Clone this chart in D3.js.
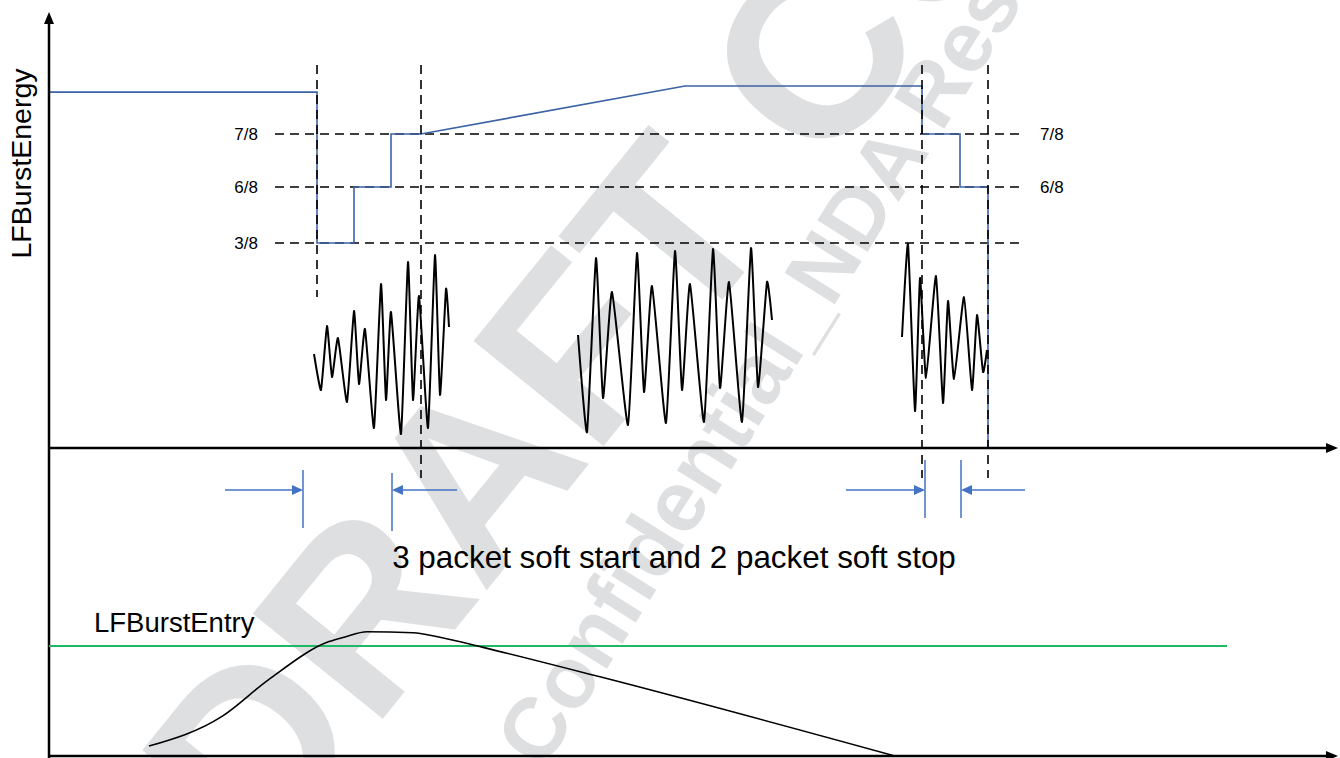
<!DOCTYPE html>
<html>
<head>
<meta charset="utf-8">
<script src="https://cdn.jsdelivr.net/npm/d3@7/dist/d3.min.js"></script>
<style>
  html, body { margin: 0; padding: 0; background: #ffffff; }
  svg { display: block; font-family: "Liberation Sans", Arial, sans-serif; }
</style>
</head>
<body>
<svg id="chart" width="1340" height="758"></svg>
<script>
// ---------------- DATA ----------------
// threshold levels on the LFBurstEnergy axis
const levelLabels = ["3/8", "6/8", "7/8"];
const levelValues = [3 / 8, 6 / 8, 7 / 8];

// LFBurstEnergy step trace (time units, energy fraction)
const energyTime  = [0, 268, 268, 305, 305, 342, 342, 372, 636, 873, 873, 911, 911, 939, 939];
const energyValue = [0.984, 0.984, 3/8, 3/8, 6/8, 6/8, 7/8, 7/8, 1, 1, 7/8, 7/8, 6/8, 6/8, 0];

// packet boundaries (vertical dashed markers) and their vertical extent (energy units)
const markerTime   = [268, 372, 873, 939];
const markerTop    = [1.055, 1.055, 1.055, 1.055];
const markerBottom = [0.276, -0.055, -0.055, -0.055];

// burst waveforms (time, normalised amplitude)
const burst1Time = [265, 272, 278, 283, 289, 298, 305, 310, 316, 325, 332, 337, 342, 352, 359, 364, 370, 379, 386, 391, 397, 400];
const burst1Amp  = [-0.09, -0.45, 0.19, -0.32, 0.07, -0.57, 0.34, -0.39, 0.16, -0.83, 0.61, -0.55, 0.33, -0.89, 0.83, -0.55, 0.49, -0.83, 0.90, -0.50, 0.56, 0.18];
const burst2Time = [529, 538, 547, 554, 563, 579, 588, 595, 603, 617, 626, 633, 641, 655, 664, 671, 680, 693, 702, 709, 718, 723];
const burst2Amp  = [0.10, -0.87, 0.87, -0.53, 0.53, -0.80, 0.92, -0.47, 0.59, -0.78, 0.94, -0.45, 0.61, -0.77, 0.96, -0.43, 0.63, -0.77, 0.97, -0.42, 0.63, 0.25];
const burst3Time = [853, 859, 866, 871, 877, 887, 894, 899, 905, 915, 923, 928, 934, 938];
const burst3Amp  = [0.08, 1.01, -0.66, 0.67, -0.33, 0.69, -0.58, 0.44, -0.34, 0.48, -0.45, 0.30, -0.27, -0.05];

// soft start / soft stop dimension markers: [from, to] in time units
const dimFrom = [176, 408, 797, 976];
const dimTo   = [254, 343, 876, 912];

// LFBurstEntry panel
const entryTime  = [100, 173, 219, 280, 295, 318, 364, 391, 433, 551, 846];
const entryValue = [0.09, 0.36, 0.69, 1.04, 1.08, 1.13, 1.12, 1.08, 0.99, 0.72, 0.0];
const entryThreshold = 1;
const entryThresholdEnd = 1178;

// texts
const yAxisTitle = "LFBurstEnergy";
const entryTitle = "LFBurstEntry";
const caption = "3 packet soft start and 2 packet soft stop";
const watermarkBig = "DRAFT COPY";
const watermarkSmall = "Confidential_NDA Restricted";

// ---------------- LAYOUT ----------------
const W = 1340, H = 758;
const axisX = 49;
const svg = d3.select("#chart");
svg.append("rect").attr("width", W).attr("height", H).attr("fill", "#ffffff");

// watermark (background)
const WM = "#dedfe1";
svg.append("text")
  .attr("transform", "translate(262,868) rotate(-51)")
  .attr("font-size", 243).attr("font-weight", "bold").attr("fill", WM)
  .text(watermarkBig);
svg.append("text")
  .attr("transform", "translate(543,771) rotate(-58)")
  .attr("font-size", 86).attr("font-weight", "bold").attr("fill", WM)
  .text(watermarkSmall);

const x = d3.scaleLinear().domain([0, 1290]).range([axisX, axisX + 1290]);
// piecewise (schematic) energy scale
const yE = d3.scaleLinear().domain([0, 3/8, 6/8, 7/8, 1]).range([448, 243, 187, 134, 86]);
const yW = d3.scaleLinear().domain([-1, 1]).range([445, 245]);
const yB = d3.scaleLinear().domain([0, 1]).range([756, 646]);

const BLUE = "#3c63a6";
const BLUE2 = "#4472c4";
const GREEN = "#20b864";
const dash = "9,6";

// ---------------- DASHED LEVEL LINES ----------------
const gLevels = svg.append("g");
gLevels.selectAll("line").data(levelValues).join("line")
  .attr("x1", x(226)).attr("x2", x(975))
  .attr("y1", d => yE(d)).attr("y2", d => yE(d))
  .attr("stroke", "#000").attr("stroke-width", 1.5).attr("stroke-dasharray", dash);

gLevels.selectAll("text.left").data(levelValues).join("text").attr("class", "left")
  .attr("x", x(209)).attr("y", d => yE(d)).attr("dy", "0.35em")
  .attr("text-anchor", "end").attr("font-size", 17).attr("fill", "#000")
  .text((d, i) => levelLabels[i]);
gLevels.selectAll("text.right").data(levelValues.filter(v => v > 0.5)).join("text").attr("class", "right")
  .attr("x", x(991)).attr("y", d => yE(d)).attr("dy", "0.35em")
  .attr("text-anchor", "start").attr("font-size", 17).attr("fill", "#000")
  .text(d => levelLabels[levelValues.indexOf(d)]);

// ---------------- ENERGY STEP TRACE ----------------
const energyData = energyTime.map((t, i) => [t, energyValue[i]]);
svg.append("path").datum(energyData)
  .attr("d", d3.line().x(d => x(d[0])).y(d => yE(d[1])))
  .attr("fill", "none").attr("stroke", BLUE).attr("stroke-width", 1.6);

// ---------------- BURSTS ----------------
const waveLine = d3.line().x(d => x(d[0])).y(d => yW(d[1])).curve(d3.curveCardinal.tension(0.55));
[[burst1Time, burst1Amp], [burst2Time, burst2Amp], [burst3Time, burst3Amp]].forEach(([ts, as]) => {
  svg.append("path").datum(ts.map((t, i) => [t, as[i]]))
    .attr("d", waveLine)
    .attr("fill", "none").attr("stroke", "#000").attr("stroke-width", 2).attr("stroke-linejoin", "round");
});

// ---------------- VERTICAL DASHED MARKERS ----------------
svg.append("g").selectAll("line").data(markerTime).join("line")
  .attr("x1", d => x(d)).attr("x2", d => x(d))
  .attr("y1", (d, i) => yE(markerTop[i])).attr("y2", (d, i) => yE(markerBottom[i]))
  .attr("stroke", "#000").attr("stroke-width", 1.6).attr("stroke-dasharray", dash);

// ---------------- AXES ----------------
const gAx = svg.append("g");
function arrowHead(tipX, tipY, dir) {
  const L = 12, Hw = 5;
  let pts;
  if (dir === "up") pts = [[tipX, tipY], [tipX - Hw, tipY + L], [tipX + Hw, tipY + L]];
  else pts = [[tipX, tipY], [tipX - L, tipY - Hw], [tipX - L, tipY + Hw]];
  gAx.append("path").attr("d", d3.line()(pts) + "Z").attr("fill", "#000");
}
gAx.append("line").attr("x1", axisX).attr("x2", axisX).attr("y1", H).attr("y2", 22)
  .attr("stroke", "#000").attr("stroke-width", 2.5);
arrowHead(axisX, 12, "up");
[yE(0), yB(0)].forEach(yy => {
  gAx.append("line").attr("x1", axisX - 1).attr("x2", x(1278)).attr("y1", yy).attr("y2", yy)
    .attr("stroke", "#000").attr("stroke-width", 2.5);
  arrowHead(x(1289), yy, "right");
});

svg.append("text")
  .attr("transform", `translate(31,${163.5}) rotate(-90)`)
  .attr("text-anchor", "middle").attr("font-size", 28.5).attr("fill", "#000")
  .text(yAxisTitle);

// ---------------- DIMENSION MARKERS ----------------
const gDim = svg.append("g");
const dimY = 490;
const dimBarTop = [470, 473, 460, 460];
const dimBarBot = [528, 531, 518, 518];
dimTo.forEach((t, i) => {
  const xs = x(dimFrom[i]), xe = x(t);
  const dir = xe > xs ? 1 : -1;
  gDim.append("line").attr("x1", xe).attr("x2", xe).attr("y1", dimBarTop[i]).attr("y2", dimBarBot[i])
    .attr("stroke", BLUE2).attr("stroke-width", 1.5);
  gDim.append("line").attr("x1", xs).attr("x2", xe - dir * 8).attr("y1", dimY).attr("y2", dimY)
    .attr("stroke", BLUE2).attr("stroke-width", 1.5);
  gDim.append("path")
    .attr("d", d3.line()([[xe, dimY], [xe - dir * 11, dimY - 5], [xe - dir * 11, dimY + 5]]) + "Z")
    .attr("fill", BLUE2);
});

svg.append("text").attr("x", 674).attr("y", 568)
  .attr("text-anchor", "middle").attr("font-size", 31.4).attr("fill", "#000")
  .text(caption);

// ---------------- ENTRY PANEL ----------------
svg.append("line").attr("x1", x(0)).attr("x2", x(entryThresholdEnd))
  .attr("y1", yB(entryThreshold)).attr("y2", yB(entryThreshold))
  .attr("stroke", GREEN).attr("stroke-width", 2);
svg.append("path").datum(entryTime.map((t, i) => [t, entryValue[i]]))
  .attr("d", d3.line().x(d => x(d[0])).y(d => yB(d[1])).curve(d3.curveMonotoneX))
  .attr("fill", "none").attr("stroke", "#000").attr("stroke-width", 1.6);
svg.append("text").attr("x", 94).attr("y", 632)
  .attr("font-size", 27.5).attr("fill", "#000")
  .text(entryTitle);
</script>
</body>
</html>
